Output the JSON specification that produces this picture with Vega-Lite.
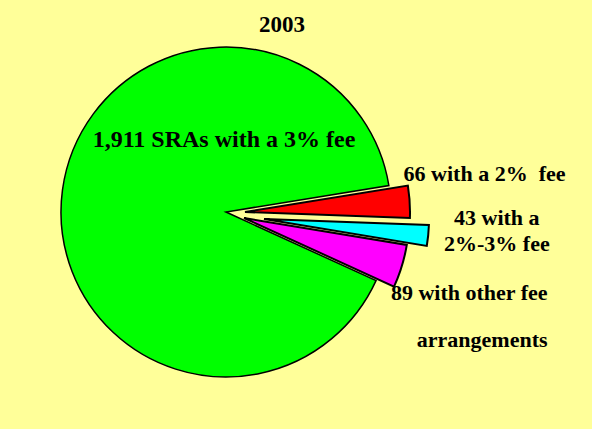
{
  "$schema": "https://vega.github.io/schema/vega-lite/v6.json",
  "autosize": "none",
  "width": 438,
  "height": 330,
  "padding": {"left": 7, "top": 47, "right": 147, "bottom": 52},
  "background": "#FFFF99",
  "config": {"view": {"stroke": null}, "font": "Liberation Serif"},
  "title": {
    "text": "2003",
    "font": "Liberation Serif",
    "fontSize": 23,
    "fontWeight": "bold",
    "color": "black",
    "anchor": "middle",
    "frame": "group",
    "dx": 56,
    "baseline": "alphabetic",
    "offset": -11
  },
  "data": {
    "values": [
      {"category": "2% fee", "count": 66, "order": 1, "label": "66 with a 2%\u00a0 fee"},
      {"category": "2%-3% fee", "count": 43, "order": 2, "label": "43 with a\n2%-3% fee"},
      {"category": "other fee arrangements", "count": 89, "order": 3, "label": "89 with other fee\narrangements"},
      {"category": "3% fee", "count": 1911, "order": 4, "label": "1,911 SRAs with a 3% fee"}
    ]
  },
  "transform": [
    {"stack": "count", "groupby": [], "sort": [{"field": "order", "order": "ascending"}], "as": ["v0", "v1"]}
  ],
  "encoding": {
    "theta": {"field": "v0", "type": "quantitative", "stack": null, "scale": {"domain": [0, 2109], "range": [1.41, 7.6932]}}
  },
  "layer": [
    {
      "transform": [{"filter": "datum.order == 4"}],
      "mark": {"type": "arc", "stroke": "black", "strokeWidth": 1.5},
      "encoding": {
        "theta2": {"field": "v1"},
        "color": {"field": "category", "type": "nominal", "legend": null,
          "scale": {"domain": ["2% fee", "2%-3% fee", "other fee arrangements", "3% fee"], "range": ["#FF0000", "#00FFFF", "#FF00FF", "#00FF00"]}}
      }
    },
    {
      "transform": [{"filter": "datum.order == 1"}],
      "mark": {"type": "arc", "stroke": "black", "strokeWidth": 2, "xOffset": 19, "yOffset": 0},
      "encoding": {
        "theta2": {"field": "v1"},
        "color": {"field": "category", "type": "nominal", "legend": null}
      }
    },
    {
      "transform": [{"filter": "datum.order == 2"}],
      "mark": {"type": "arc", "stroke": "black", "strokeWidth": 2, "xOffset": 38, "yOffset": 7},
      "encoding": {
        "theta2": {"field": "v1"},
        "color": {"field": "category", "type": "nominal", "legend": null}
      }
    },
    {
      "transform": [{"filter": "datum.order == 3"}],
      "mark": {"type": "arc", "stroke": "black", "strokeWidth": 2, "xOffset": 18, "yOffset": 6},
      "encoding": {
        "theta2": {"field": "v1"},
        "color": {"field": "category", "type": "nominal", "legend": null}
      }
    },
    {
      "transform": [{"filter": "datum.order == 4"}],
      "mark": {"type": "text", "font": "Liberation Serif", "fontSize": 24, "fontWeight": "bold", "color": "black", "align": "center", "baseline": "alphabetic", "dx": -2, "dy": -65},
      "encoding": {"text": {"field": "label"}}
    },
    {
      "transform": [{"filter": "datum.order == 1"}],
      "mark": {"type": "text", "font": "Liberation Serif", "fontSize": 22, "fontWeight": "bold", "color": "black", "align": "left", "baseline": "alphabetic", "radius": 185, "dx": -5, "dy": -1},
      "encoding": {"text": {"field": "label"}}
    },
    {
      "transform": [{"filter": "datum.order == 2"}],
      "mark": {"type": "text", "font": "Liberation Serif", "fontSize": 22, "fontWeight": "bold", "color": "black", "align": "center", "baseline": "alphabetic", "radius": 270, "dx": 1, "dy": 3, "lineBreak": "\n", "lineHeight": 26},
      "encoding": {"text": {"field": "label"}}
    },
    {
      "transform": [{"filter": "datum.order == 3"}],
      "mark": {"type": "text", "font": "Liberation Serif", "fontSize": 22, "fontWeight": "bold", "color": "black", "align": "right", "baseline": "alphabetic", "radius": 330, "dx": -4, "dy": 34, "lineBreak": "\n", "lineHeight": 47},
      "encoding": {"text": {"field": "label"}}
    }
  ]
}
